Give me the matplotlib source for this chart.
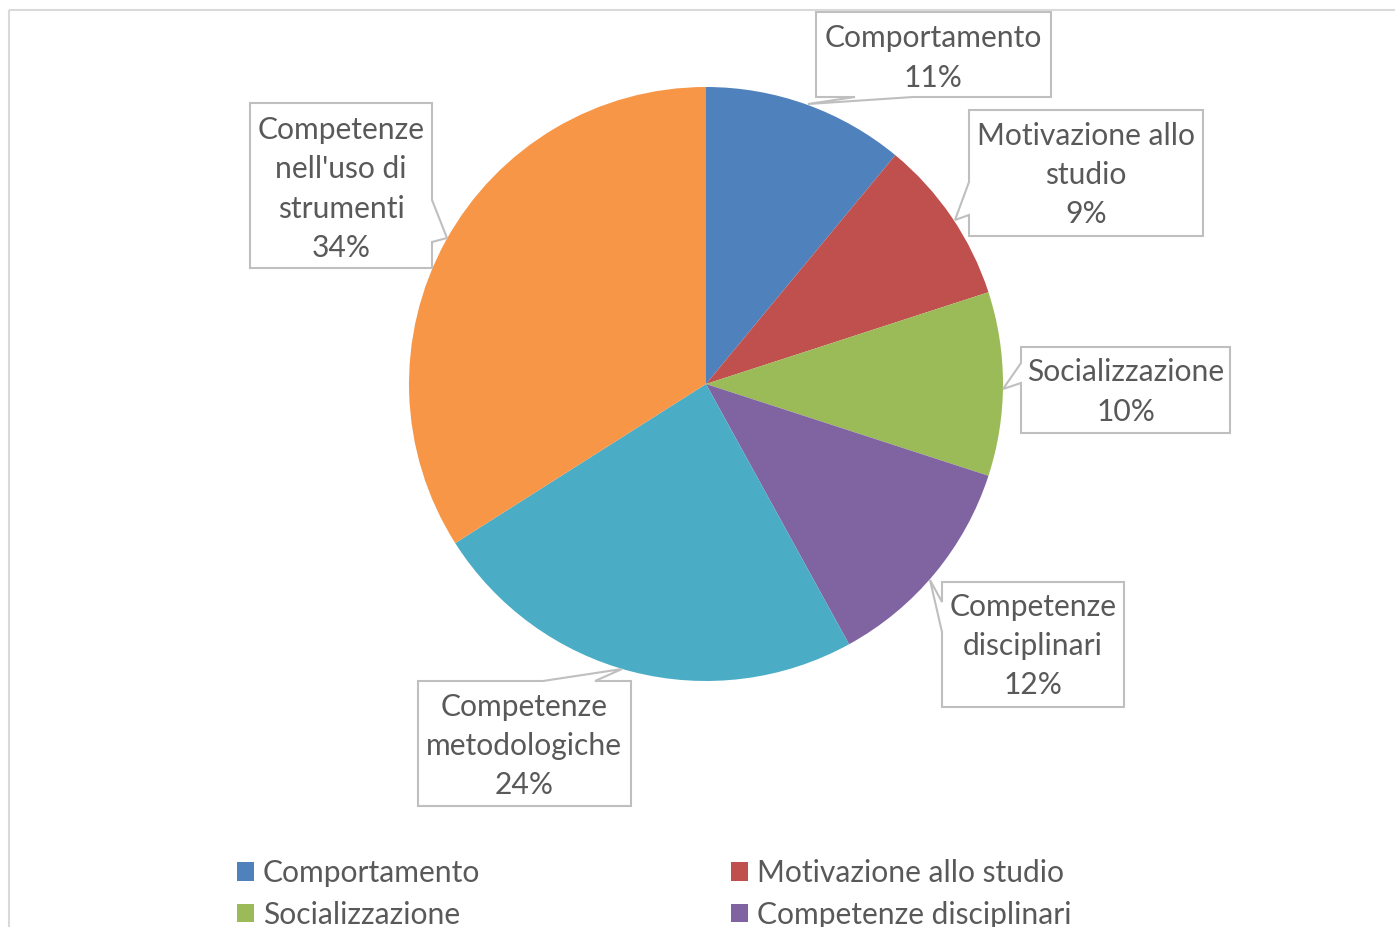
import matplotlib
matplotlib.use("Agg")
import matplotlib.pyplot as plt
from matplotlib.patches import Polygon, Rectangle, Patch

# ---- data ----
categories = ["Comportamento", "Motivazione allo studio", "Socializzazione",
              "Competenze disciplinari", "Competenze metodologiche",
              "Competenze nell'uso di strumenti"]
values = [11, 9, 10, 12, 24, 34]
label_texts = ["Comportamento", "Motivazione allo\nstudio", "Socializzazione",
               "Competenze\ndisciplinari", "Competenze\nmetodologiche",
               "Competenze\nnell'uso di\nstrumenti"]
colors = ["#4F81BD", "#C0504D", "#9BBB59", "#8064A2", "#4BACC6", "#F79646"]
# legend entries visible in the (cropped) reference, Excel row-wise order
legend_visible = [0, 1, 2, 3]

W, H = 1395, 927
FONT = "Lato"
TXT = "#595959"
FS = 21.6

fig = plt.figure(figsize=(W / 100, H / 100), dpi=100)
fig.patch.set_facecolor("white")

# chart area border (cropped on right/bottom)
fig.patches.append(Rectangle((9 / W, 1 - 10 / H), 2, -2, transform=fig.transFigure,
                             facecolor="none", edgecolor="#D9D9D9", lw=1.5))

# pie axes: center (706,384) px, radius 297 px
cx, cy, R = 706, 384, 297
ax = fig.add_axes([(cx - R) / W, 1 - (cy + R) / H, 2 * R / W, 2 * R / H])
wedges, _ = ax.pie(values, colors=colors, startangle=90, counterclock=False,
                   radius=1, wedgeprops=dict(linewidth=0))
ax.set_xlim(-1, 1)
ax.set_ylim(-1, 1)
ax.set_aspect("equal")
ax.axis("off")

def px(x, y):
    return ((x - cx) / R, (cy - y) / R)

# callout shapes (pixel layout)
callouts = [
    [(816, 12), (1051, 12), (1051, 97), (913, 97), (808, 104), (855, 97), (816, 97)],
    [(969, 110), (1203, 110), (1203, 236), (969, 236), (969, 215), (955, 220), (969, 182)],
    [(1021, 347), (1230, 347), (1230, 433), (1021, 433), (1021, 383), (1003, 389), (1021, 363)],
    [(942, 582), (1124, 582), (1124, 707), (942, 707), (942, 632), (930, 580), (942, 602)],
    [(418, 681), (543, 681), (622, 669), (595, 681), (631, 681), (631, 806), (418, 806)],
    [(250, 103), (432, 103), (432, 200), (447, 238), (432, 242), (432, 268), (250, 268)],
]
box_centers = [(933, 58), (1086, 175), (1126, 392), (1033, 646), (524, 746), (341, 189)]

for i, poly in enumerate(callouts):
    pts = [px(x, y) for x, y in poly]
    ax.add_patch(Polygon(pts, closed=True, facecolor="white", edgecolor="#BFBFBF",
                         lw=1.5, clip_on=False, zorder=3))
    bx, by = px(*box_centers[i])
    ax.text(bx, by, f"{label_texts[i]}\n{values[i]}%", ha="center", va="center",
            fontsize=FS, family=FONT, color=TXT, linespacing=1.49, zorder=4,
            clip_on=False)

# legend (row-wise order like Excel; only the rows visible in the reference)
handles = [Patch(facecolor=colors[k], edgecolor="none") for k in legend_visible]
labels = [categories[k] for k in legend_visible]
order = [0, 2, 1, 3]
leg = fig.legend([handles[k] for k in order], [labels[k] for k in order],
                 ncol=2, loc="upper left", bbox_to_anchor=(225 / W, 1 - 847 / H),
                 frameon=False, prop=dict(family=FONT, size=FS),
                 handlelength=0.57, handleheight=0.57, handletextpad=0.3,
                 columnspacing=8.35, labelspacing=0.46, borderaxespad=0)
for t in leg.get_texts():
    t.set_color(TXT)

fig.savefig("out.png", dpi=100, facecolor="white")
